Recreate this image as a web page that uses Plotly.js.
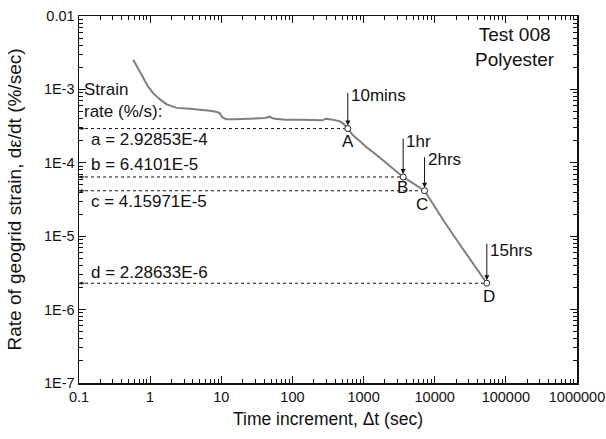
<!DOCTYPE html>
<html>
<head>
<meta charset="utf-8">
<script src="https://cdn.plot.ly/plotly-3.0.1.min.js"></script>
<style>
  html, body { margin: 0; padding: 0; background: #fff; }
  #chart { width: 606px; height: 439px; }
</style>
</head>
<body>
<div id="chart"></div>
<script>
// Creep strain-rate history, Test 008 (polyester geogrid)
const curveT = [0.580, 0.675, 0.802, 0.933, 1.108, 1.376, 1.709, 2.362, 3.634, 5.02, 6.94, 8.71,
  9.59, 10.23, 11.65, 15.59, 25.33, 41.17, 48.4, 51.6, 56.9, 78.6, 127.8, 176.7, 260.5, 296.5,
  371.9, 466.6, 531, 600, 710.6, 891, 1118, 1448, 1877, 2510, 3600, 4496, 5639, 7200, 8589,
  10670, 13210, 22670, 36860, 54000];
const curveRate = [2.535e-3, 1.931e-3, 1.412e-3, 1.099e-3, 8.82e-4, 7.31e-4, 6.25e-4, 5.60e-4,
  5.43e-4, 5.29e-4, 5.10e-4, 4.91e-4, 4.72e-4, 4.22e-4, 3.93e-4, 3.91e-4, 3.99e-4, 4.07e-4,
  4.25e-4, 4.07e-4, 3.97e-4, 3.85e-4, 3.85e-4, 3.85e-4, 3.79e-4, 3.97e-4, 3.87e-4, 3.67e-4,
  3.34e-4, 2.92853e-4, 2.366e-4, 1.962e-4, 1.609e-4, 1.326e-4, 1.081e-4, 8.69e-5, 6.4101e-5,
  5.60e-5, 4.86e-5, 4.15971e-5, 3.19e-5, 2.258e-5, 1.651e-5, 7.64e-6, 3.81e-6, 2.28633e-6];

// Reference points picked off the curve
const keyLabels = ['A', 'B', 'C', 'D'];
const keyRateNames = ['a', 'b', 'c', 'd'];
const keyTimeText = ['10mins', '1hr', '2hrs', '15hrs'];
const keyT = [600, 3600, 7200, 54000];
const keyRate = [2.92853e-4, 6.4101e-5, 4.15971e-5, 2.28633e-6];

// Axis ticks
const xTickVals = [0.1, 1, 10, 100, 1000, 10000, 100000, 1000000];
const xTickText = ['0.1', '1', '10', '100', '1000', '10000', '100000', '1000000'];
const yTickVals = [1e-7, 1e-6, 1e-5, 1e-4, 1e-3, 1e-2];
const yTickText = ['1E-7', '1E-6', '1E-5', '1E-4', '1E-3', '0.01'];

const xRange = [-1, 6];
const yRange = [-7, -2];

function minorTicks(range) {
  const out = [];
  for (let k = range[0]; k < range[1]; k++) {
    for (let m = 2; m <= 9; m++) out.push(m * Math.pow(10, k));
  }
  return out;
}

const FONT = 'Liberation Sans, Arial, sans-serif';
const INK = '#111';
const xStart = Math.pow(10, xRange[0]);

const traces = [];

// dotted guides from the rate axis to each reference point
keyT.forEach((t, i) => {
  traces.push({
    x: [xStart, t], y: [keyRate[i], keyRate[i]],
    mode: 'lines', hoverinfo: 'skip', showlegend: false,
    line: { color: INK, width: 1, dash: 'dot' }
  });
});

traces.push({
  x: curveT, y: curveRate, mode: 'lines', showlegend: false,
  line: { color: '#7f7f7f', width: 2 }
});

traces.push({
  x: keyT, y: keyRate, mode: 'markers', showlegend: false, cliponaxis: false,
  marker: { symbol: 'circle', size: 6, color: '#fff', line: { color: '#222', width: 1 } }
});

const annotations = [];
const L = Math.log10;

// "Strain rate" heading
annotations.push({
  xref: 'paper', yref: 'paper', x: 0.006, y: 0.771, xanchor: 'left', yanchor: 'middle',
  align: 'left', showarrow: false, text: 'Strain<br>rate (%/s):',
  font: { family: FONT, size: 17, color: INK }
});
annotations.push({
  xref: 'paper', yref: 'paper', x: 0.876, y: 0.915, xanchor: 'center', yanchor: 'middle',
  align: 'center', showarrow: false, text: 'Test 008<br>Polyester',
  font: { family: FONT, size: 19, color: INK }
});

const rateShift = [-11, 12, -11, 11];
const arrowLen = [37, 40, 35, 41];
const timeShift = [33, 35, 31, 33];
const letterShift = [[0, -13], [-1, -11], [-3, -14], [2, -13]];

keyT.forEach((t, i) => {
  // value label beside the guide line
  annotations.push({
    xref: 'paper', yref: 'y', x: 0.02, y: L(keyRate[i]), xanchor: 'left', yanchor: 'middle',
    yshift: rateShift[i], showarrow: false,
    text: keyRateNames[i] + ' = ' + keyRate[i].toExponential().toUpperCase(),
    font: { family: FONT, size: 17, color: INK }
  });
  // small arrowhead on the rate axis
  annotations.push({
    xref: 'x', yref: 'y', x: xRange[0], y: L(keyRate[i]), ax: 7, ay: 0, text: '',
    showarrow: true, arrowhead: 2, arrowsize: 0.7, arrowwidth: 1, arrowcolor: INK
  });
  // vertical time arrow
  annotations.push({
    xref: 'x', yref: 'y', x: L(t), y: L(keyRate[i]), ax: 0, ay: -arrowLen[i], text: '',
    showarrow: true, arrowhead: 2, arrowsize: 1, arrowwidth: 1, arrowcolor: INK, standoff: 3
  });
  annotations.push({
    xref: 'x', yref: 'y', x: L(t), y: L(keyRate[i]), xanchor: 'left', yanchor: 'middle',
    xshift: 1, yshift: timeShift[i], showarrow: false, text: keyTimeText[i],
    font: { family: FONT, size: 17, color: INK }
  });
  // point letter
  annotations.push({
    xref: 'x', yref: 'y', x: L(t), y: L(keyRate[i]), xanchor: 'center', yanchor: 'middle',
    xshift: letterShift[i][0], yshift: letterShift[i][1], showarrow: false, text: keyLabels[i],
    font: { family: FONT, size: 17, color: INK }
  });
});

const axisCommon = {
  type: 'log', showgrid: false, zeroline: false,
  showline: true, linecolor: INK, linewidth: 1.5, mirror: 'allticks',
  ticks: 'inside', ticklen: 7, tickwidth: 1, tickcolor: INK,
  tickmode: 'array', tickfont: { family: FONT, size: 14.5, color: INK }
};

const layout = {
  width: 606, height: 439,
  margin: { l: 79, r: 29, t: 16, b: 56 },
  paper_bgcolor: '#fff', plot_bgcolor: '#fff',
  showlegend: false,
  xaxis: Object.assign({}, axisCommon, {
    range: xRange, tickvals: xTickVals, ticktext: xTickText,
    minor: { tickmode: 'array', tickvals: minorTicks(xRange), ticks: 'inside', ticklen: 4, tickcolor: INK, showgrid: false },
    title: { text: 'Time increment, Δt (sec)', standoff: 9, font: { family: FONT, size: 17.5, color: INK } }
  }),
  yaxis: Object.assign({}, axisCommon, {
    range: yRange, tickvals: yTickVals, ticktext: yTickText,
    minor: { tickmode: 'array', tickvals: minorTicks(yRange), ticks: 'inside', ticklen: 4, tickcolor: INK, showgrid: false },
    title: { text: 'Rate of geogrid strain, dε/dt (%/sec)', standoff: 17, font: { family: FONT, size: 19, color: INK } }
  }),
  annotations: annotations
};

Plotly.newPlot('chart', traces, layout, { staticPlot: true, displayModeBar: false });
</script>
</body>
</html>
